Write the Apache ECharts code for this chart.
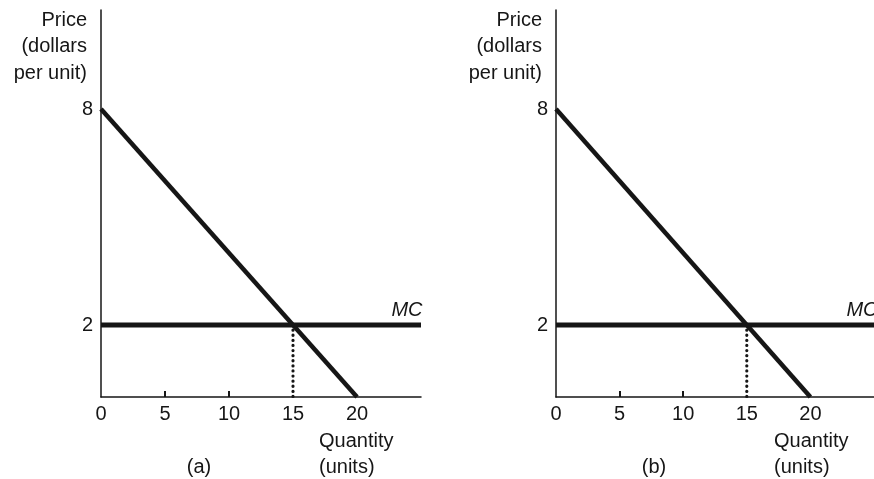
<!DOCTYPE html>
<html>
<head>
<meta charset="utf-8">
<script src="https://cdn.jsdelivr.net/npm/echarts@6/dist/echarts.min.js"></script>
<style>
html,body{margin:0;padding:0;background:#fff;}
#c{width:874px;height:479px;}
</style>
</head>
<body>
<div id="c"></div>
<script>
// ---- data ----
var demandLine = [[0, 8], [20, 0]];
var mcLine = [[0, 2], [25, 2]];
var dropLine = [[15, 2], [15, 0]];
var xTickLabels = [0, 5, 10, 15, 20];
var xTickMarks = [5, 10];
var yTickLabels = [2, 8];
var panelNames = ['(a)', '(b)'];
var yAxisTitle = 'Price\n(dollars\nper unit)';
var xAxisTitle = 'Quantity\n(units)';
var curveLabel = 'MC';

var FONT = '"Liberation Sans", Arial, Helvetica, sans-serif';
var INK = '#161616';
var FS = 20;

var grids = [
  {left: 101, top: 10, width: 320, height: 387},
  {left: 556, top: 10, width: 320, height: 387}
];

function xAxis(i) {
  return {
    gridIndex: i, type: 'value', min: 0, max: 25, interval: 5,
    axisLine: {show: true, onZero: false, lineStyle: {color: INK, width: 1.5}},
    axisTick: {show: true, inside: true, length: 6, customValues: xTickMarks, lineStyle: {color: INK, width: 2}},
    axisLabel: {show: true, customValues: xTickLabels, margin: 7, color: INK, fontSize: FS, fontFamily: FONT},
    splitLine: {show: false}
  };
}
function yAxis(i) {
  return {
    gridIndex: i, type: 'value', min: 0, max: 10.75,
    axisLine: {show: true, onZero: false, lineStyle: {color: INK, width: 1.5}},
    axisTick: {show: false},
    axisLabel: {show: true, customValues: yTickLabels, margin: 8, color: INK, fontSize: FS, fontFamily: FONT},
    splitLine: {show: false}
  };
}
function seriesFor(i) {
  return [
    {type: 'line', xAxisIndex: i, yAxisIndex: i, data: demandLine, symbol: 'none', silent: true,
      lineStyle: {color: INK, width: 4.5}, clip: false, animation: false},
    {type: 'line', xAxisIndex: i, yAxisIndex: i, data: mcLine, symbol: 'none', silent: true,
      lineStyle: {color: INK, width: 5}, animation: false},
    {type: 'line', xAxisIndex: i, yAxisIndex: i, data: dropLine, symbol: 'none', silent: true,
      lineStyle: {color: INK, width: 3.2, type: [0.1, 5], cap: 'round'}, animation: false}
  ];
}

var texts = [];
[0, 1].forEach(function (i) {
  var dx = grids[i].left - grids[0].left;
  texts.push({type: 'text', x: 87 + dx, y: 7,
    style: {text: yAxisTitle, font: FS + 'px ' + FONT, fill: INK, align: 'right', verticalAlign: 'top', lineHeight: 26.5}});
  texts.push({type: 'text', x: 319 + dx, y: 428,
    style: {text: xAxisTitle, font: FS + 'px ' + FONT, fill: INK, align: 'left', verticalAlign: 'top', lineHeight: 26}});
  texts.push({type: 'text', x: 199 + dx, y: 467,
    style: {text: panelNames[i], font: FS + 'px ' + FONT, fill: INK, align: 'center', verticalAlign: 'middle'}});
  texts.push({type: 'text', x: 407 + dx, y: 310,
    style: {text: curveLabel, font: 'italic ' + FS + 'px ' + FONT, fill: INK, align: 'center', verticalAlign: 'middle'}});
});

var chart = echarts.init(document.getElementById('c'), null, {renderer: 'canvas'});
chart.setOption({
  animation: false,
  backgroundColor: '#ffffff',
  grid: grids,
  xAxis: [xAxis(0), xAxis(1)],
  yAxis: [yAxis(0), yAxis(1)],
  series: seriesFor(0).concat(seriesFor(1)),
  graphic: texts
});
</script>
</body>
</html>
